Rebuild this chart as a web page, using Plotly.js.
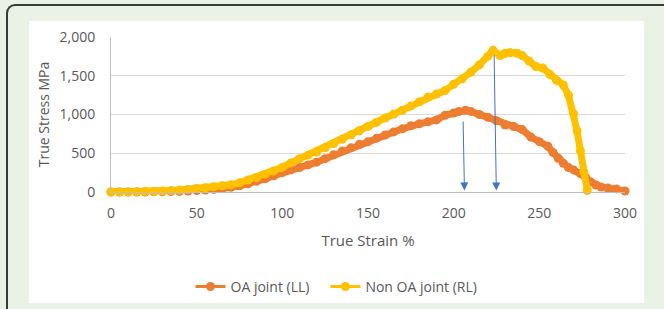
<!DOCTYPE html>
<html>
<head>
<meta charset="utf-8">
<script src="https://cdn.plot.ly/plotly-3.0.1.min.js"></script>
<style>
  html, body { margin: 0; padding: 0; width: 664px; height: 309px; overflow: hidden; background: #e9f2e5; }
  #frame { position: absolute; left: 6px; top: 4px; width: 700px; height: 400px;
           border-top: 2px solid #3a3a3a; border-left: 2px solid #3a3a3a; border-top-left-radius: 9px; }
  #chart { position: absolute; left: 29px; top: 21px; width: 615px; height: 282px; background: #fff; }
</style>
</head>
<body>
<div id="frame"></div>
<div id="chart"></div>
<script>
// OA joint (LL)
const oaStrain = [0,5,10,15,20,25,30,35,40,45,50,55,60,65,70,75,80,85,90,95,100,105,110,115,120,125,130,135,140,145,150,155,160,165,170,175,180,185,190,195,200,203,207,210,215,220,225,230,235,240,245,250,255,258,261,264,267,270,274,277,280,283,286,290,295,300];
const oaStress = [0,0,0,0,0,2,3,5,8,12,18,25,33,45,60,80,105,140,170,210,250,285,315,350,385,430,480,530,570,615,650,695,735,775,815,855,880,905,930,990,1020,1040,1055,1040,1000,965,920,865,845,805,710,650,590,510,435,370,315,285,238,190,130,90,65,52,40,13];

// Non OA joint (RL)
const nonStrain = [0,5,10,15,20,25,30,35,40,45,50,55,60,65,70,75,80,85,90,95,100,105,110,115,120,125,130,135,140,145,150,155,160,165,170,175,180,185,190,195,200,205,210,215,220,223,227,230,233,237,240,244,248,252,256,260,264,267,270,272,274,276,278];
const nonStress = [0,0,0,2,5,8,12,18,25,33,45,55,68,80,93,118,155,187,230,272,320,375,430,475,515,570,625,680,735,790,845,900,955,1005,1055,1110,1165,1225,1265,1310,1390,1460,1545,1640,1750,1830,1760,1790,1800,1790,1760,1690,1620,1600,1520,1440,1380,1250,1010,790,530,260,20];

const seriesNames = ['OA joint (LL)', 'Non OA joint (RL)'];
const seriesColors = ['#ED7D31', '#FFC000'];
const xTicks = [0,50,100,150,200,250,300];
const yTicks = [0,500,1000,1500,2000];
const yTickText = ['0','500','1,000','1,500','2,000'];

// arrows: [tip strain, tip stress, tail strain, tail stress]
const arrows = [[206.3, 20, 205.5, 930], [224.9, 20, 223.6, 1790]];

const txt = '#595959';
const fam = 'Open Sans, Noto Sans, sans-serif';
const tickFont = { family: fam, size: 14, color: txt };

const data = [[oaStrain, oaStress], [nonStrain, nonStress]];
const traces = [];
data.forEach((d, i) => {
  traces.push({ x: d[0], y: d[1], name: seriesNames[i], legendgroup: 'g' + i, showlegend: false,
    type: 'scatter', mode: 'lines+markers',
    line: { color: seriesColors[i], width: 7 }, marker: { color: seriesColors[i], size: 9 }, cliponaxis: false });
});
data.forEach((d, i) => {
  traces.push({ x: [null], y: [null], name: seriesNames[i] + (i === 0 ? '\u00a0\u00a0\u00a0' : ''),
    legendgroup: 'g' + i, showlegend: true,
    type: 'scatter', mode: 'lines+markers',
    line: { color: seriesColors[i], width: 3 }, marker: { color: seriesColors[i], size: 9 } });
});

const layout = {
  width: 615, height: 282,
  margin: { l: 82, r: 19, t: 16, b: 111 },
  paper_bgcolor: '#ffffff', plot_bgcolor: '#ffffff',
  font: tickFont,
  showlegend: true,
  legend: { orientation: 'h', xref: 'container', yref: 'container', x: 0.5, xanchor: 'center',
            y: 0.057, yanchor: 'middle',
            font: { family: fam, size: 14, color: txt }, itemwidth: 30 },
  xaxis: {
    range: [0, 300], tickvals: xTicks, ticktext: xTicks.map(String),
    showgrid: false, zeroline: false, showline: true, linecolor: '#bfbfbf', linewidth: 1,
    ticks: '', ticklabelstandoff: 8, tickfont: tickFont,
    title: { text: 'True Strain %', font: { family: fam, size: 15, color: txt }, standoff: 14 }
  },
  yaxis: {
    range: [0, 2000], tickvals: yTicks, ticktext: yTickText,
    showgrid: true, gridcolor: '#d9d9d9', gridwidth: 1, zeroline: false,
    showline: true, linecolor: '#bfbfbf', linewidth: 1,
    ticks: '', ticklabelstandoff: 12, tickfont: tickFont,
    title: { text: 'True Stress MPa', font: { family: fam, size: 14, color: txt }, standoff: 6 }
  },
  annotations: arrows.map(a => ({
    x: a[0], y: a[1], ax: a[2], ay: a[3], xref: 'x', yref: 'y', axref: 'x', ayref: 'y',
    text: '', showarrow: true, arrowhead: 2, arrowsize: 1.6, arrowwidth: 1, arrowcolor: '#4472C4'
  }))
};

Plotly.newPlot('chart', traces, layout, { displayModeBar: false, staticPlot: true });
</script>
</body>
</html>
